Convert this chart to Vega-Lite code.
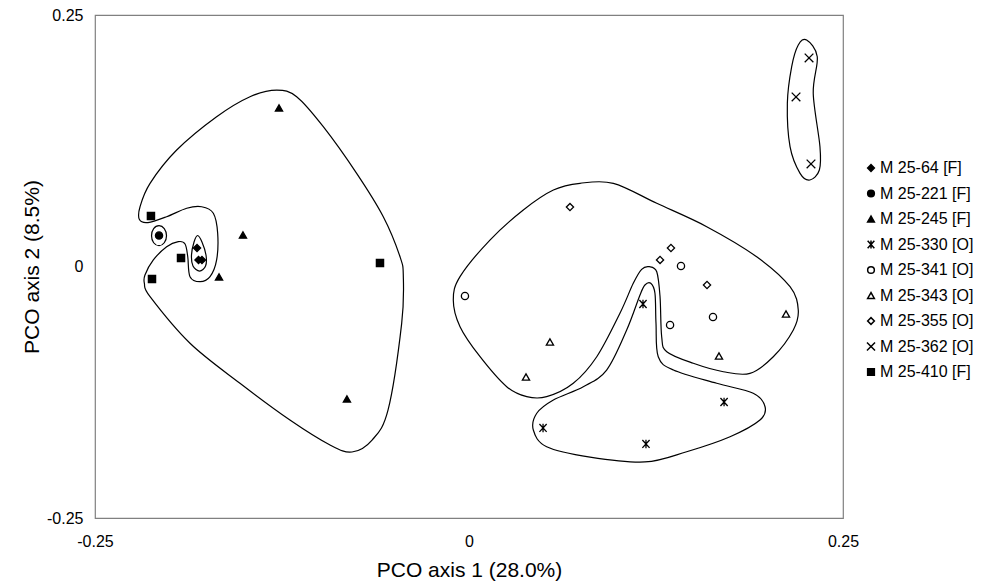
{
  "$schema": "https://vega.github.io/schema/vega-lite/v6.json",
  "autosize": "none",
  "width": 748,
  "height": 503,
  "padding": {"left": 95, "top": 15, "right": 159, "bottom": 69},
  "background": "white",
  "config": {
    "font": "Liberation Sans",
    "view": {"stroke": "#808080", "strokeWidth": 1.2},
    "axis": {"grid": false, "domain": false, "ticks": false, "labelColor": "black", "titleColor": "black", "titleFontWeight": "normal", "labelFont": "Liberation Sans", "titleFont": "Liberation Sans"}
  },
  "datasets": {
    "pts": [
      {"s": "M 25-64 [F]", "x": -0.1818, "y": 0.0184},
      {"s": "M 25-64 [F]", "x": -0.1808, "y": 0.0065},
      {"s": "M 25-64 [F]", "x": -0.1785, "y": 0.0065},
      {"s": "M 25-221 [F]", "x": -0.2072, "y": 0.0308},
      {"s": "M 25-245 [F]", "x": -0.127, "y": 0.1576},
      {"s": "M 25-245 [F]", "x": -0.1511, "y": 0.0313},
      {"s": "M 25-245 [F]", "x": -0.1671, "y": -0.0104},
      {"s": "M 25-245 [F]", "x": -0.0816, "y": -0.1317},
      {"s": "M 25-410 [F]", "x": -0.2126, "y": 0.0502},
      {"s": "M 25-410 [F]", "x": -0.1925, "y": 0.0084},
      {"s": "M 25-410 [F]", "x": -0.2119, "y": -0.0124},
      {"s": "M 25-410 [F]", "x": -0.0595, "y": 0.0035},
      {"s": "M 25-355 [O]", "x": 0.0675, "y": 0.0591},
      {"s": "M 25-355 [O]", "x": 0.135, "y": 0.0184},
      {"s": "M 25-355 [O]", "x": 0.1277, "y": 0.0065},
      {"s": "M 25-355 [O]", "x": 0.1591, "y": -0.0184},
      {"s": "M 25-341 [O]", "x": -0.0027, "y": -0.0293},
      {"s": "M 25-341 [O]", "x": 0.1417, "y": 0.0005},
      {"s": "M 25-341 [O]", "x": 0.1344, "y": -0.0582},
      {"s": "M 25-341 [O]", "x": 0.1631, "y": -0.0502},
      {"s": "M 25-343 [O]", "x": 0.0541, "y": -0.075},
      {"s": "M 25-343 [O]", "x": 0.0381, "y": -0.1098},
      {"s": "M 25-343 [O]", "x": 0.1671, "y": -0.089},
      {"s": "M 25-343 [O]", "x": 0.2119, "y": -0.0472},
      {"s": "M 25-330 [O]", "x": 0.1163, "y": -0.0373},
      {"s": "M 25-330 [O]", "x": 0.0495, "y": -0.1605},
      {"s": "M 25-330 [O]", "x": 0.1183, "y": -0.1764},
      {"s": "M 25-330 [O]", "x": 0.1705, "y": -0.1347},
      {"s": "M 25-362 [O]", "x": 0.2273, "y": 0.2073},
      {"s": "M 25-362 [O]", "x": 0.2186, "y": 0.1685},
      {"s": "M 25-362 [O]", "x": 0.2286, "y": 0.1019}
    ],
    "hulls": [
      {"h": "A", "i": 1, "x": -0.2203, "y": 0.0467},
      {"h": "A", "i": 2, "x": -0.2146, "y": 0.0437},
      {"h": "A", "i": 3, "x": -0.2021, "y": 0.0495},
      {"h": "A", "i": 4, "x": -0.1887, "y": 0.0579},
      {"h": "A", "i": 5, "x": -0.1787, "y": 0.0594},
      {"h": "A", "i": 6, "x": -0.1709, "y": 0.0529},
      {"h": "A", "i": 7, "x": -0.168, "y": 0.033},
      {"h": "A", "i": 8, "x": -0.1687, "y": 0.0065},
      {"h": "A", "i": 9, "x": -0.1731, "y": -0.0101},
      {"h": "A", "i": 10, "x": -0.1798, "y": -0.0151},
      {"h": "A", "i": 11, "x": -0.1865, "y": -0.0101},
      {"h": "A", "i": 12, "x": -0.188, "y": 0.0097},
      {"h": "A", "i": 13, "x": -0.1898, "y": 0.0224},
      {"h": "A", "i": 14, "x": -0.1943, "y": 0.0247},
      {"h": "A", "i": 15, "x": -0.2021, "y": 0.0197},
      {"h": "A", "i": 16, "x": -0.211, "y": 0.0065},
      {"h": "A", "i": 17, "x": -0.2166, "y": -0.0084},
      {"h": "A", "i": 18, "x": -0.217, "y": -0.0167},
      {"h": "A", "i": 19, "x": -0.2132, "y": -0.03},
      {"h": "A", "i": 20, "x": -0.1865, "y": -0.0763},
      {"h": "A", "i": 21, "x": -0.1531, "y": -0.1161},
      {"h": "A", "i": 22, "x": -0.1197, "y": -0.1526},
      {"h": "A", "i": 23, "x": -0.0929, "y": -0.1774},
      {"h": "A", "i": 24, "x": -0.0782, "y": -0.1844},
      {"h": "A", "i": 25, "x": -0.0648, "y": -0.1725},
      {"h": "A", "i": 26, "x": -0.0541, "y": -0.1426},
      {"h": "A", "i": 27, "x": -0.045, "y": -0.0565},
      {"h": "A", "i": 28, "x": -0.0439, "y": -0.0101},
      {"h": "A", "i": 29, "x": -0.0461, "y": 0.0097},
      {"h": "A", "i": 30, "x": -0.0573, "y": 0.0495},
      {"h": "A", "i": 31, "x": -0.0751, "y": 0.0926},
      {"h": "A", "i": 32, "x": -0.0974, "y": 0.139},
      {"h": "A", "i": 33, "x": -0.1152, "y": 0.1688},
      {"h": "A", "i": 34, "x": -0.1285, "y": 0.1754},
      {"h": "A", "i": 35, "x": -0.1464, "y": 0.1688},
      {"h": "A", "i": 36, "x": -0.1687, "y": 0.1489},
      {"h": "A", "i": 37, "x": -0.1954, "y": 0.1158},
      {"h": "A", "i": 38, "x": -0.2132, "y": 0.0827},
      {"h": "A", "i": 39, "x": -0.2199, "y": 0.0594},
      {"h": "B", "i": 1, "x": -0.2072, "y": 0.0406},
      {"h": "B", "i": 2, "x": -0.2037, "y": 0.0377},
      {"h": "B", "i": 3, "x": -0.2022, "y": 0.0306},
      {"h": "B", "i": 4, "x": -0.2037, "y": 0.0236},
      {"h": "B", "i": 5, "x": -0.2072, "y": 0.0207},
      {"h": "B", "i": 6, "x": -0.2108, "y": 0.0236},
      {"h": "B", "i": 7, "x": -0.2122, "y": 0.0306},
      {"h": "B", "i": 8, "x": -0.2108, "y": 0.0377},
      {"h": "C", "i": 1, "x": -0.1814, "y": 0.0308},
      {"h": "C", "i": 2, "x": -0.1785, "y": 0.0244},
      {"h": "C", "i": 3, "x": -0.1758, "y": 0.0114},
      {"h": "C", "i": 4, "x": -0.1761, "y": 0.0005},
      {"h": "C", "i": 5, "x": -0.1801, "y": -0.0045},
      {"h": "C", "i": 6, "x": -0.1845, "y": 0.0005},
      {"h": "C", "i": 7, "x": -0.1855, "y": 0.0114},
      {"h": "C", "i": 8, "x": -0.1838, "y": 0.0244},
      {"h": "D", "i": 1, "x": 0.2257, "y": 0.2251},
      {"h": "D", "i": 2, "x": 0.2328, "y": 0.2085},
      {"h": "D", "i": 3, "x": 0.2301, "y": 0.1722},
      {"h": "D", "i": 4, "x": 0.2346, "y": 0.1191},
      {"h": "D", "i": 5, "x": 0.2342, "y": 0.0959},
      {"h": "D", "i": 6, "x": 0.2279, "y": 0.086},
      {"h": "D", "i": 7, "x": 0.2213, "y": 0.0926},
      {"h": "D", "i": 8, "x": 0.2146, "y": 0.1191},
      {"h": "D", "i": 9, "x": 0.2128, "y": 0.1622},
      {"h": "D", "i": 10, "x": 0.2157, "y": 0.1986},
      {"h": "D", "i": 11, "x": 0.2201, "y": 0.2202},
      {"h": "E", "i": 1, "x": 0.0742, "y": 0.0827},
      {"h": "E", "i": 2, "x": 0.0965, "y": 0.0827},
      {"h": "E", "i": 3, "x": 0.1255, "y": 0.0628},
      {"h": "E", "i": 4, "x": 0.1589, "y": 0.0396},
      {"h": "E", "i": 5, "x": 0.1923, "y": 0.0097},
      {"h": "E", "i": 6, "x": 0.2146, "y": -0.0201},
      {"h": "E", "i": 7, "x": 0.2201, "y": -0.0432},
      {"h": "E", "i": 8, "x": 0.2168, "y": -0.0631},
      {"h": "E", "i": 9, "x": 0.2034, "y": -0.0897},
      {"h": "E", "i": 10, "x": 0.1878, "y": -0.1062},
      {"h": "E", "i": 11, "x": 0.17, "y": -0.1046},
      {"h": "E", "i": 12, "x": 0.1499, "y": -0.0962},
      {"h": "E", "i": 13, "x": 0.1322, "y": -0.0847},
      {"h": "E", "i": 14, "x": 0.1288, "y": -0.0698},
      {"h": "E", "i": 15, "x": 0.1277, "y": -0.03},
      {"h": "E", "i": 16, "x": 0.1255, "y": -0.0052},
      {"h": "E", "i": 17, "x": 0.1205, "y": -0.0002},
      {"h": "E", "i": 18, "x": 0.1154, "y": -0.0028},
      {"h": "E", "i": 19, "x": 0.1098, "y": -0.0167},
      {"h": "E", "i": 20, "x": 0.1009, "y": -0.0465},
      {"h": "E", "i": 21, "x": 0.0854, "y": -0.0897},
      {"h": "E", "i": 22, "x": 0.0697, "y": -0.1161},
      {"h": "E", "i": 23, "x": 0.0519, "y": -0.1294},
      {"h": "E", "i": 24, "x": 0.0386, "y": -0.1294},
      {"h": "E", "i": 25, "x": 0.0252, "y": -0.1195},
      {"h": "E", "i": 26, "x": 0.0074, "y": -0.0897},
      {"h": "E", "i": 27, "x": -0.006, "y": -0.0598},
      {"h": "E", "i": 28, "x": -0.0105, "y": -0.0333},
      {"h": "E", "i": 29, "x": -0.006, "y": -0.0101},
      {"h": "E", "i": 30, "x": 0.014, "y": 0.0263},
      {"h": "E", "i": 31, "x": 0.0363, "y": 0.0562},
      {"h": "E", "i": 32, "x": 0.0564, "y": 0.076},
      {"h": "F", "i": 1, "x": 0.1215, "y": -0.0167},
      {"h": "F", "i": 2, "x": 0.1243, "y": -0.0266},
      {"h": "F", "i": 3, "x": 0.125, "y": -0.0565},
      {"h": "F", "i": 4, "x": 0.1265, "y": -0.0897},
      {"h": "F", "i": 5, "x": 0.1366, "y": -0.1029},
      {"h": "F", "i": 6, "x": 0.1656, "y": -0.1161},
      {"h": "F", "i": 7, "x": 0.19, "y": -0.126},
      {"h": "F", "i": 8, "x": 0.1979, "y": -0.1394},
      {"h": "F", "i": 9, "x": 0.1945, "y": -0.1526},
      {"h": "F", "i": 10, "x": 0.1745, "y": -0.1692},
      {"h": "F", "i": 11, "x": 0.1455, "y": -0.1841},
      {"h": "F", "i": 12, "x": 0.1176, "y": -0.1943},
      {"h": "F", "i": 13, "x": 0.0809, "y": -0.1894},
      {"h": "F", "i": 14, "x": 0.0519, "y": -0.1791},
      {"h": "F", "i": 15, "x": 0.043, "y": -0.1625},
      {"h": "F", "i": 16, "x": 0.0453, "y": -0.1459},
      {"h": "F", "i": 17, "x": 0.0564, "y": -0.1327},
      {"h": "F", "i": 18, "x": 0.0764, "y": -0.1195},
      {"h": "F", "i": 19, "x": 0.092, "y": -0.1029},
      {"h": "F", "i": 20, "x": 0.1054, "y": -0.0631},
      {"h": "F", "i": 21, "x": 0.1143, "y": -0.0283},
      {"h": "F", "i": 22, "x": 0.1176, "y": -0.0184}
    ]
  },
  "layer": [
    {
      "data": {"name": "hulls"},
      "mark": {"type": "line", "interpolate": "cardinal-closed", "stroke": "black", "strokeWidth": 1.2},
      "encoding": {
        "x": {"field": "x", "type": "quantitative"},
        "y": {"field": "y", "type": "quantitative"},
        "detail": {"field": "h"},
        "order": {"field": "i", "type": "quantitative"}
      }
    },
    {
      "data": {"name": "pts"},
      "mark": {"type": "point", "stroke": "black", "strokeWidth": 1.3, "size": 52, "opacity": 1},
      "encoding": {
        "x": {
          "field": "x", "type": "quantitative",
          "scale": {"domain": [-0.25, 0.25], "nice": false, "zero": false},
          "axis": {"values": [-0.25, 0, 0.25], "labelExpr": "datum.value == 0 ? '0' : (datum.value < 0 ? '-' : '') + format(abs(datum.value), '.2f')", "labelFontSize": 16, "labelPadding": 15, "labelFlush": false, "title": "PCO axis 1 (28.0%)", "titleFontSize": 21, "titlePadding": 10}
        },
        "y": {
          "field": "y", "type": "quantitative",
          "scale": {"domain": [-0.25, 0.25], "nice": false, "zero": false},
          "axis": {"values": [-0.25, 0, 0.25], "labelExpr": "datum.value == 0 ? '0' : (datum.value < 0 ? '-' : '') + format(abs(datum.value), '.2f')", "labelFontSize": 16, "labelPadding": 12, "labelFlush": false, "title": "PCO axis 2 (8.5%)", "titleFontSize": 21, "titlePadding": 4}
        },
        "shape": {
          "field": "s", "type": "nominal",
          "scale": {
            "domain": ["M 25-64 [F]", "M 25-221 [F]", "M 25-245 [F]", "M 25-330 [O]", "M 25-341 [O]", "M 25-343 [O]", "M 25-355 [O]", "M 25-362 [O]", "M 25-410 [F]"],
            "range": ["diamond", "circle", "triangle-up", "M-1,-1.1L1,1.1M-1,1.1L1,-1.1M0,-1.2L0,1.2", "circle", "triangle-up", "diamond", "M-1.2,-1.2L1.2,1.2M-1.2,1.2L1.2,-1.2", "square"]
          },
          "legend": {"title": null, "orient": "none", "legendX": 768, "legendY": 145, "padding": 0, "labelFontSize": 16, "labelOffset": 1, "rowPadding": 9.5, "symbolSize": 45, "labelColor": "black", "labelFont": "Liberation Sans",
            "encode": {"symbols": {"update": {"stroke": {"value": "black"}, "strokeWidth": {"value": 1.3}, "opacity": {"value": 1}}}}}
        },
        "fill": {
          "field": "s", "type": "nominal",
          "scale": {
            "domain": ["M 25-64 [F]", "M 25-221 [F]", "M 25-245 [F]", "M 25-330 [O]", "M 25-341 [O]", "M 25-343 [O]", "M 25-355 [O]", "M 25-362 [O]", "M 25-410 [F]"],
            "range": ["black", "black", "black", "transparent", "white", "white", "white", "transparent", "black"]
          },
          "legend": {"title": null, "orient": "none", "legendX": 768, "legendY": 145, "padding": 0, "labelFontSize": 16, "labelOffset": 1, "rowPadding": 9.5, "symbolSize": 45, "labelColor": "black", "labelFont": "Liberation Sans",
            "encode": {"symbols": {"update": {"stroke": {"value": "black"}, "strokeWidth": {"value": 1.3}, "opacity": {"value": 1}}}}}
        }
      }
    }
  ]
}
